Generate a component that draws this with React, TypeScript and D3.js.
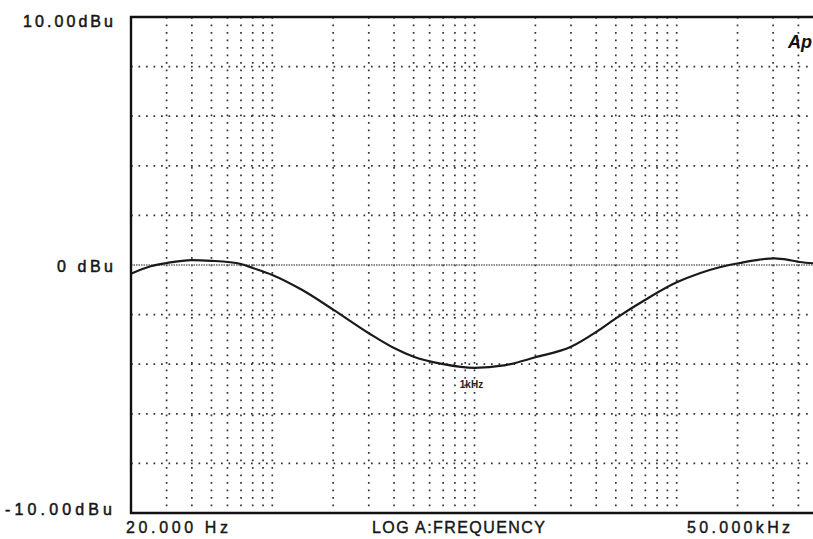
import * as d3 from 'd3'
import { useEffect, useRef } from 'react'

// frequency response readings (Hz, dBu)
const freqs = [
	20, 25, 30, 40, 50, 70, 80, 100, 140, 200, 300, 400, 500, 700, 1000, 1400, 2000, 3000, 4000, 5000, 7000,
	10000, 13000, 16300, 20500, 25700, 30500, 36200, 40600, 50000,
]
const levels = [
	-0.35, -0.05, 0.08, 0.2, 0.17, 0.04, -0.12, -0.4, -1.0, -1.8, -2.75, -3.35, -3.7, -4.0, -4.15, -4.05, -3.72,
	-3.3, -2.7, -2.15, -1.4, -0.7, -0.33, -0.09, 0.08, 0.22, 0.27, 0.2, 0.12, 0.06,
]
const gridFreqs = [
	30, 40, 50, 60, 70, 80, 90, 100, 200, 300, 400, 500, 600, 700, 800, 900, 1000, 2000, 3000, 4000, 5000, 6000,
	7000, 8000, 9000, 10000, 20000, 30000, 40000,
]
const gridLevels = [-8, -6, -4, -2, 2, 4, 6, 8]

const yLabels = [
	{ v: 10, text: '10.00dBu', x0: 23, len: 90, dy: 10 },
	{ v: 0, text: '0 dBu', x0: 57, len: 56, dy: 7 },
	{ v: -10, text: '-10.00dBu', x0: 5, len: 107, dy: 2 },
]
const xLabels = [
	{ text: '20.000 Hz', x0: 126, len: 102 },
	{ text: 'LOG A:FREQUENCY', x0: 372, len: 173 },
	{ text: '50.000kHz', x0: 687, len: 103 },
]

const width = 813
const height = 539
const marginLeft = 131
const marginRight = -5
const marginTop = 17
const marginBottom = 26

const Chart = () => {
	const svgRef = useRef<SVGSVGElement>(null)

	useEffect(() => {
		const svg = d3.select(svgRef.current)
		svg.selectAll('*').remove()

		const x = d3
			.scaleLog()
			.domain([20, 50000])
			.range([marginLeft, width - marginRight])
		const y = d3
			.scaleLinear()
			.domain([-10, 10])
			.range([height - marginBottom, marginTop])

		svg.append('rect').attr('width', width).attr('height', height).attr('fill', '#fff')

		// dotted grid
		svg
			.append('g')
			.selectAll('line')
			.data(gridFreqs)
			.join('line')
			.attr('x1', (d) => x(d))
			.attr('x2', (d) => x(d))
			.attr('y1', marginTop)
			.attr('y2', height - marginBottom)
			.attr('stroke', '#333')
			.attr('stroke-width', 1.7)
			.attr('stroke-dasharray', '1.7,5.8')

		svg
			.append('g')
			.selectAll('line')
			.data(gridLevels)
			.join('line')
			.attr('x1', marginLeft)
			.attr('x2', width)
			.attr('y1', (d) => y(d))
			.attr('y2', (d) => y(d))
			.attr('stroke', '#333')
			.attr('stroke-width', 1.7)
			.attr('stroke-dasharray', '1.7,5.8')

		// 0 dBu reference
		svg
			.append('line')
			.attr('x1', marginLeft)
			.attr('x2', width)
			.attr('y1', y(0))
			.attr('y2', y(0))
			.attr('stroke', '#666')
			.attr('stroke-width', 1.3)
			.attr('stroke-dasharray', '1.5,1')

		// frame
		svg
			.append('path')
			.attr('d', `M${width},${y(10)}H${marginLeft}V${y(-10)}H${width}`)
			.attr('fill', 'none')
			.attr('stroke', '#111')
			.attr('stroke-width', 2.4)

		const pts = freqs.map((f, i) => [f, levels[i]] as [number, number])
		const line = d3
			.line<[number, number]>()
			.curve(d3.curveMonotoneX)
			.x((d) => x(d[0]))
			.y((d) => y(d[1]))

		svg
			.append('path')
			.attr('d', line(pts))
			.attr('fill', 'none')
			.attr('stroke', '#1a1a1a')
			.attr('stroke-width', 2.2)

		const font = '"Liberation Sans", Arial, sans-serif'

		svg
			.append('g')
			.selectAll('text')
			.data(yLabels)
			.join('text')
			.attr('x', (d) => d.x0)
			.attr('y', (d) => y(d.v) + d.dy)
			.attr('textLength', (d) => d.len)
			.attr('lengthAdjust', 'spacing')
			.attr('font-family', font)
			.attr('font-size', 16)
			.attr('fill', '#151515')
			.attr('stroke', '#151515')
			.attr('stroke-width', 0.5)
			.text((d) => d.text)

		svg
			.append('g')
			.selectAll('text')
			.data(xLabels)
			.join('text')
			.attr('x', (d) => d.x0)
			.attr('y', 533)
			.attr('textLength', (d) => d.len)
			.attr('lengthAdjust', 'spacing')
			.attr('font-family', font)
			.attr('font-size', 16)
			.attr('fill', '#151515')
			.attr('stroke', '#151515')
			.attr('stroke-width', 0.4)
			.text((d) => d.text)

		// annotation at the dip
		svg
			.append('text')
			.attr('x', x(1000) - 3)
			.attr('y', y(-4.15) + 20)
			.attr('text-anchor', 'middle')
			.attr('font-family', font)
			.attr('font-size', 10)
			.attr('font-weight', 'bold')
			.attr('fill', '#222')
			.text('1kHz')

		svg
			.append('text')
			.attr('x', 788)
			.attr('y', 48)
			.attr('font-family', font)
			.attr('font-size', 18)
			.attr('font-style', 'italic')
			.attr('font-weight', 'bold')
			.attr('fill', '#111')
			.text('Ap')
	}, [])

	return (
		<svg
			ref={svgRef}
			width={width}
			height={height}
			style={{ position: 'absolute', left: 0, top: 0, display: 'block' }}
		></svg>
	)
}

export default function App() {
	return <Chart />
}
